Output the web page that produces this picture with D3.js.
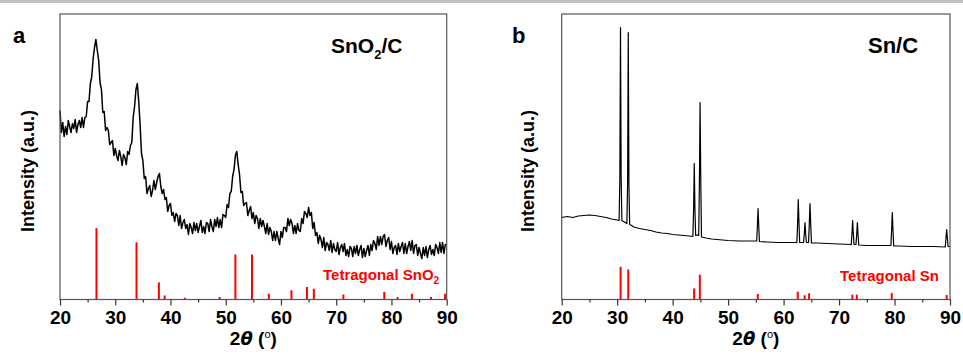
<!DOCTYPE html>
<html><head><meta charset="utf-8">
<script src="https://cdn.jsdelivr.net/npm/d3@7"></script>
<style>
html,body{margin:0;padding:0;background:#fff;}
svg{display:block;font-family:Arial,"Liberation Sans",sans-serif;}
</style></head>
<body><svg id="c" width="963" height="360"></svg>
<script>
// ---- Data ----
const xTicks = [20, 30, 40, 50, 60, 70, 80, 90];
const xMinorTicks = [25, 35, 45, 55, 65, 75, 85];
const xDomain = [20, 90];

// Panel a: SnO2/C pattern, sampled every 0.25 deg from 20 to 90
const aStart = 20, aStep = 0.25;
const aIntensity = [
189,167,177,163, 173,165,179,173, 167,176,171,180, 167,175,179,172, 182,172,182,183,
198,198,216,223, 241,252,260,249, 239,217,210,187, 188,169,172,169, 155,157,159,144,
151,144,139,149, 143,134,145,142, 135,148,145,154, 157,182,193,210, 216,198,175,146,
139,121,123,106, 111,114,103,109, 119,110,117,123, 126,113,106,110, 100,102,88,94,
96,84,87,78, 86,84,74,84, 71,77,80,71, 75,65,76,72, 66,77,69,76,
67,73,79,67, 73,66,77,76, 68,80,73,68, 80,73,82,72, 80,72,85,84,
82,95,92,106, 108,123,130,144, 148,135,125,107, 108,94,96,97, 84,89,93,81,
87,76,84,81, 71,81,73,79, 73,66,76,65, 72,68,59,68, 59,68,61,55,
68,62,72,72, 68,81,74,80, 76,66,74,66, 76,69,68,81, 76,88,86,82,
92,84,87,71, 77,64,67,56, 64,60,52,62, 49,57,55,49, 59,47,56,50,
48,57,45,52, 55,48,56,44, 50,43,53,51, 43,53,46,54, 44,50,54,42,
51,43,49,54, 44,55,49,59, 56,50,63,54, 63,55,63,65, 53,59,62,50,
58,46,52,54, 45,56,48,53, 57,46,56,46, 53,58,49,59, 46,54,55,44,
52,46,41,52, 44,53,42,50, 54,45,50,44, 55,52,46,57, 47,57,46,55,
55
];
// Tetragonal SnO2 reference lines
const aRefPos = [26.6, 33.85, 37.9, 38.95, 42.6, 48.9, 51.75, 54.75, 57.8, 61.9, 64.7, 65.95, 71.3, 78.7, 81.1, 83.7, 87.15, 89.7];
const aRefInt = [100, 80, 24, 5.6, 2.5, 3.5, 63, 63, 8, 13, 17.5, 15, 7, 10.5, 3.5, 8, 3.5, 8];

// Panel b: Sn/C pattern
const bTheta = [20,21,22,23,24,25,26,27,28,29,30,30.35,30.48,30.6,30.72,30.85,31.3,31.75,31.88,32.0,32.12,32.25,32.6,33,34,35,36,37,38,39,40,41,42,43,43.65,43.78,43.9,44.02,44.15,44.45,44.7,44.83,44.95,45.07,45.2,46,47,48,50,52,54,55.15,55.27,55.4,55.53,55.65,57,59,61,62.4,62.52,62.65,62.78,62.9,63.6,63.74,63.86,63.98,64.12,64.5,64.63,64.76,64.89,65.02,66,68,70,72.2,72.33,72.45,72.57,72.7,73.05,73.18,73.3,73.42,73.55,75,77,79.35,79.48,79.6,79.72,79.85,81,83,85,87,89.15,89.28,89.4,89.52,89.65,90];
const bIntensity = [82,83,82,83.5,84,84.5,84,83,82,80.5,79.5,79,120,272,120,79,77.5,76,115,267,115,75,74,72.5,71,70,69,67.5,66.5,66,65,64.5,64,63.5,63,90,136,90,64,64.5,64,120,197,120,62.5,61.5,60.5,60,59,58.5,58.5,58.5,72,91,72,58,57.5,57,57,57,75,100,75,57,57,66,77,66,57,57,75,96,75,56.5,56.5,56,55.5,55,66,79,66,55,55,65,77,65,54.5,54,54,54,70,87,70,53.5,53.5,53,53,53,52.5,62,70,62,53,53];
// Tetragonal Sn reference lines
const bRefPos = [30.62, 32.0, 43.88, 44.9, 55.35, 62.55, 63.8, 64.6, 72.4, 73.2, 79.5, 89.4];
const bRefInt = [100, 92, 34, 76, 17, 24, 13, 19, 15, 15, 20, 14];

// ---- Drawing ----
const svg = d3.select("#c");
svg.append("rect").attr("x",0).attr("y",0).attr("width",963).attr("height",3).attr("fill","#c3c3c3");

const plotTop = 14, plotBottom = 299.5;

function panel(opts){
  const g = svg.append("g");
  const x = d3.scaleLinear().domain(xDomain).range([opts.left, opts.right]);
  const y = d3.scaleLinear().domain([0, 285.5]).range([plotBottom, plotTop]);
  const yr = d3.scaleLinear().domain([0, opts.refMax]).range([plotBottom, plotTop]);

  // reference lines
  g.selectAll("line.ref").data(opts.refPos.map((p,i)=>({p, v: opts.refInt[i]})))
    .enter().append("line")
    .attr("x1", d=>x(d.p)).attr("x2", d=>x(d.p))
    .attr("y1", yr(0)).attr("y2", d=>yr(d.v))
    .attr("stroke", "#ff0000").attr("stroke-width", opts.refW);

  // curve
  const line = d3.line().x(d=>x(d[0])).y(d=>y(d[1]));
  g.append("path").datum(opts.pts).attr("d", line)
    .attr("fill","none").attr("stroke","#000").attr("stroke-width", opts.lineW)
    .attr("stroke-linejoin","round");

  // frame
  g.append("rect").attr("x", opts.left).attr("y", plotTop)
    .attr("width", opts.right-opts.left).attr("height", plotBottom-plotTop)
    .attr("fill","none").attr("stroke","#555").attr("stroke-width",1.2);

  // axes
  const ax = g.append("g").attr("transform",`translate(0,${plotBottom})`)
    .call(d3.axisBottom(x).tickValues(xTicks).tickSize(6).tickSizeOuter(0).tickPadding(5).tickFormat(d3.format("d")));
  ax.select(".domain").remove();
  ax.selectAll("line").attr("stroke","#333").attr("stroke-width",1.2);
  ax.selectAll("text").attr("font-size",19).attr("font-weight","bold").attr("fill","#000")
    .attr("font-family",'Arial,"Liberation Sans",sans-serif');
  const axm = g.append("g").attr("transform",`translate(0,${plotBottom})`)
    .call(d3.axisBottom(x).tickValues(xMinorTicks).tickSize(3).tickSizeOuter(0).tickFormat(""));
  axm.select(".domain").remove();
  axm.selectAll("line").attr("stroke","#333").attr("stroke-width",1.2);

  // x title
  const cx = (opts.left+opts.right)/2;
  const t = g.append("text").attr("x", cx).attr("y", 345).attr("text-anchor","middle")
    .attr("font-size",19).attr("font-weight","bold");
  t.append("tspan").text("2");
  t.append("tspan").attr("font-style","italic").attr("font-family",'"DejaVu Sans",sans-serif').attr("font-size",18).text("\u03B8");
  t.append("tspan").text(" (");
  t.append("tspan").attr("font-size",11).attr("dy",-7).attr("font-weight","normal").text("o");
  t.append("tspan").attr("dy",7).text(")");

  // y title
  g.append("text").attr("transform",`translate(${opts.ylabX},171) rotate(-90)`)
    .attr("text-anchor","middle").attr("font-size",18).attr("font-weight","bold").text("Intensity (a.u.)");

  // panel letter
  g.append("text").attr("x", opts.letterX).attr("y", 43).attr("font-size",22).attr("font-weight","bold").text(opts.letter);

  return {g, x, y};
}

const pa = panel({
  left: 60, right: 446.7, refMax: 400, refW: 2, lineW: 1.5,
  refPos: aRefPos, refInt: aRefInt,
  pts: aIntensity.map((v,i)=>[aStart + i*aStep, v]),
  ylabX: 34, letterX: 13, letter: "a"
});
const ta = pa.g.append("text").attr("x",331).attr("y",53).attr("font-size",21).attr("font-weight","bold");
ta.append("tspan").text("SnO");
ta.append("tspan").attr("font-size",13).attr("dy",6).text("2");
ta.append("tspan").attr("dy",-6).text("/C");
const ra = pa.g.append("text").attr("x",323).attr("y",280).attr("font-size",15).attr("font-weight","bold").attr("fill","#ff0000");
ra.append("tspan").text("Tetragonal SnO");
ra.append("tspan").attr("font-size",10).attr("dy",4).text("2");

const pb = panel({
  left: 561.7, right: 950, refMax: 875, refW: 2, lineW: 1.2,
  refPos: bRefPos, refInt: bRefInt,
  pts: bTheta.map((t,i)=>[t, bIntensity[i]]),
  ylabX: 534, letterX: 512, letter: "b"
});
pb.g.append("text").attr("x",868).attr("y",53).attr("font-size",22).attr("font-weight","bold").text("Sn/C");
pb.g.append("text").attr("x",840).attr("y",281).attr("font-size",15).attr("font-weight","bold").attr("fill","#ff0000").text("Tetragonal Sn");
</script>
</body></html>
